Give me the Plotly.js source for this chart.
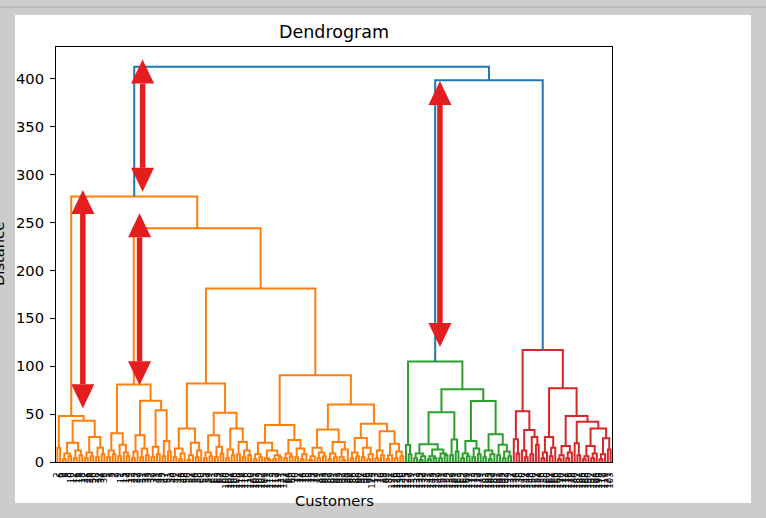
<!DOCTYPE html>
<html><head><meta charset="utf-8">
<script src="https://cdn.plot.ly/plotly-3.0.1.min.js"></script>
<style>
html,body{margin:0;padding:0;background:#cccccc;width:766px;height:518px;overflow:hidden}
#topline{position:absolute;left:0;top:6px;width:766px;height:2px;background:#b9b9b9}
#card{position:absolute;left:15px;top:15px;width:736px;height:488px;background:#ffffff}
#chart{position:absolute;left:0;top:0;width:766px;height:518px}
</style></head><body>
<div id="topline"></div><div id="card"></div><div id="chart"></div>
<script>
// ---- Linkage tree: [mergeDistance, left, right]; leaves are customer indices ----
const linkL = [48, [15, 2, 6],
  [43, [20, [9, [3, 0, 4], [6, 8, 10]], [12, [4, 12, 16], [7, 14, 18]]],
       [26, [10, [4, 22, 26], [6, 24, 30]], [15, [5, 28, 32], [8, 34, 36]]]]];
const linkA = [81,
  [30, [12, [5, 1, 3], [8, 5, 7]], [18, [6, 9, 11], [10, 15, [6, 17, 19]]]],
  [64, [28, [11, [4, 23, 25], 27], [14, [5, 29, 31], [7, 33, 35]]],
       [54, [16, [5, 37, 39], [8, 41, 43]], [22, [6, 45, 47], [11, 51, 53]]]]];
const linkBL = [82,
  [35, [14, [5, 40, 42], [9, [3, 44, 46], 48]], [20, [7, [2, 50, 52], 54], [12, [5, 56, 58], 60]]],
  [51.5, [28, [10, [4, 55, 57], [6, 59, 61]], [16, [5, 63, 65], [9, 67, 69]]],
         [35, [13, [4, 100, 102], [7, 104, 106]], [21, [8, 108, 110], [12, [5, 114, 116], [7, 118, 120]]]]]];
const linkBR = [90.5,
  [38.6, [20, [8, [3, 101, 103], [5, 105, 107]], [12, [4, 109, [2, 111, 113]], [7, [3, 115, 117], [5, 119, 121]]]],
         [23, [9, [4, 122, 64], [6, 66, 68]], [14, [5, 70, 72], [8, [3, 74, 76], 78]]]],
  [60, [34, [15, [6, [2, 73, 75], 77], [10, [4, 79, 81], [6, 83, 85]]],
            [21, [9, [3, 87, 89], [5, 91, 93]], [13, [5, 95, [2, 97, 99]], 80]]],
       [40, [25, [10, [4, 84, 86], [6, 88, 90]], [15, [5, 92, 94], [8, [3, 96, 98], 123]]],
            [32, [12, [4, 13, 71], [7, 20, 38]], [19, [7, [3, 62, 82], 124], [11, [4, 126, 128], [6, 130, 146]]]]]]];
const orangeTree = [277, linkL, [244, linkA, [181, linkBL, linkBR]]];

const greenTree = [105, [17.7, 125, [8, 127, 129]],
  [76, [52, [18.5, [9, [4, 131, 133], [6, [2, 135, 137], 139]], [13, [6, [3, 141, 143], [4, 145, 147]], [9, [4, 149, 151], [7, 153, 155]]]],
            [23.6, [7, 157, 159], [11, 161, 163]]],
       [63.7, [22, [9, [4, 165, 167], [6, 169, 171]], [14, [5, 173, 175], [8, 177, 179]]],
              [29, [12, [5, 181, 183], [8, [3, 185, 187], 189]], [18, [7, 191, 193], [11, [4, 195, 197], [6, 199, 132]]]]]]];

const redTree = [117,
  [53, [23.7, 134, [9, 136, 138]], [33.4, [12, 140, [5, 142, 144]], [26, [8, 148, 150], [18, 152, 154]]]],
  [77, [26, [10, [4, 156, 158], 160], [15, [6, 162, 164], 166]],
       [48, [16.7, [7, [3, 168, 170], 172], [10, [4, 174, 176], 178]],
            [42, [19.5, 180, [7, 182, 184]],
                 [35, [16.7, [6, [3, 186, 188], 190], [9, [4, 192, 194], 196]],
                      [24.7, [8, [3, 198, 117], 119], [13, 121, 103]]]]]]];

const tree = [412.5, orangeTree, [398.5, greenTree, redTree]];
const distanceTicks = [0, 50, 100, 150, 200, 250, 300, 350, 400];

// ---- Annotation arrows (x, top tip, bottom tip) in data units ----
const arrowX = [313, 97, 302, 1388];
const arrowTop = [420, 284, 259.5, 397.6];
const arrowBottom = [282, 56, 80, 120];

// ---- Styles ----
const palette = ['#ff7f0e', '#2ca02c', '#d62728'];
const aboveColor = '#1f77b4';
const arrowColor = '#e41e1e';
const FONT = 'DejaVu Sans';
const W = 766, H = 518, M = {l: 56, r: 154, t: 47, b: 56};

// ---- Build dendrogram (scipy conventions: leaves at 5+10i, ylim = 1.05*max) ----
const threshold = 0.7 * tree[0];
const leafX = [], leafLabels = [];
const segs = {};
let nLeaf = 0, nCluster = 0;
function addSeg(col, xs, ys) {
  if (!segs[col]) segs[col] = {x: [], y: []};
  segs[col].x.push(...xs, null); segs[col].y.push(...ys, null);
}
function walk(node, color) {
  if (!Array.isArray(node)) {
    const x = 5 + 10 * nLeaf++;
    leafX.push(x); leafLabels.push(String(node));
    return {x: x, y: 0};
  }
  const h = node[0];
  let c = color;
  if (!c && h < threshold) c = palette[nCluster++ % palette.length];
  const a = walk(node[1], c), b = walk(node[2], c);
  addSeg(c || aboveColor, [a.x, a.x, b.x, b.x], [a.y, h, h, b.y]);
  return {x: (a.x + b.x) / 2, y: h};
}
walk(tree, null);
const xMax = 10 * nLeaf, yMax = 1.05 * tree[0];

const order = palette.concat([aboveColor]);
const traces = order.filter(c => segs[c]).map(c => ({
  type: 'scatter', mode: 'lines', x: segs[c].x, y: segs[c].y,
  line: {color: c, width: 2}, hoverinfo: 'skip', connectgaps: false
}));

// arrows as shapes
const pw = W - M.l - M.r, ph = H - M.t - M.b;
const hw = 11.5 * xMax / pw, hl = 24 * yMax / ph;
const shapes = [];
arrowX.forEach((x, i) => {
  const t = arrowTop[i], b = arrowBottom[i];
  shapes.push({type: 'line', xref: 'x', yref: 'y', x0: x, x1: x, y0: t - hl, y1: b + hl,
    line: {color: arrowColor, width: 5.5}, layer: 'above'});
  shapes.push({type: 'path', xref: 'x', yref: 'y', layer: 'above',
    path: `M${x - hw},${t - hl} L${x + hw},${t - hl} L${x},${t} Z`,
    fillcolor: arrowColor, line: {width: 0}});
  shapes.push({type: 'path', xref: 'x', yref: 'y', layer: 'above',
    path: `M${x - hw},${b + hl} L${x + hw},${b + hl} L${x},${b} Z`,
    fillcolor: arrowColor, line: {width: 0}});
});

const layout = {
  width: W, height: H, margin: M,
  paper_bgcolor: 'rgba(0,0,0,0)', plot_bgcolor: 'rgba(0,0,0,0)',
  showlegend: false,
  xaxis: {range: [0, xMax], tickmode: 'array', tickvals: leafX, ticktext: leafLabels,
    tickangle: -90, tickfont: {family: FONT, size: 8.5, color: '#000'}, ticks: '',
    showgrid: false, zeroline: false, showline: true, mirror: true,
    linecolor: '#000', linewidth: 1, ticklabelstandoff: 6, fixedrange: true},
  yaxis: {range: [0, yMax], tickmode: 'array', tickvals: distanceTicks,
    ticktext: distanceTicks.map(String), ticks: 'outside', ticklen: 5, tickwidth: 1,
    tickcolor: '#000', tickfont: {family: FONT, size: 14.7, color: '#000'},
    showgrid: false, zeroline: false, showline: true, mirror: true,
    linecolor: '#000', linewidth: 1, ticklabelstandoff: 3, fixedrange: true},
  annotations: [
    {text: 'Dendrogram', xref: 'paper', yref: 'paper', x: 0.5, y: 1, xanchor: 'center',
     yanchor: 'bottom', yshift: 3, showarrow: false, font: {family: FONT, size: 17.5, color: '#000'}},
    {text: 'Customers', xref: 'paper', yref: 'paper', x: 0.5, y: -38 / ph,
     xanchor: 'center', yanchor: 'middle', showarrow: false, font: {family: FONT, size: 14.7, color: '#000'}},
    {text: 'Distance', xref: 'paper', yref: 'paper', x: (-1.5 - M.l) / pw, y: 0.5, xanchor: 'center',
     yanchor: 'middle', textangle: -90, showarrow: false, font: {family: FONT, size: 14.7, color: '#000'}}
  ],
  shapes: shapes
};
Plotly.newPlot('chart', traces, layout, {staticPlot: true, displayModeBar: false});
</script></body></html>
